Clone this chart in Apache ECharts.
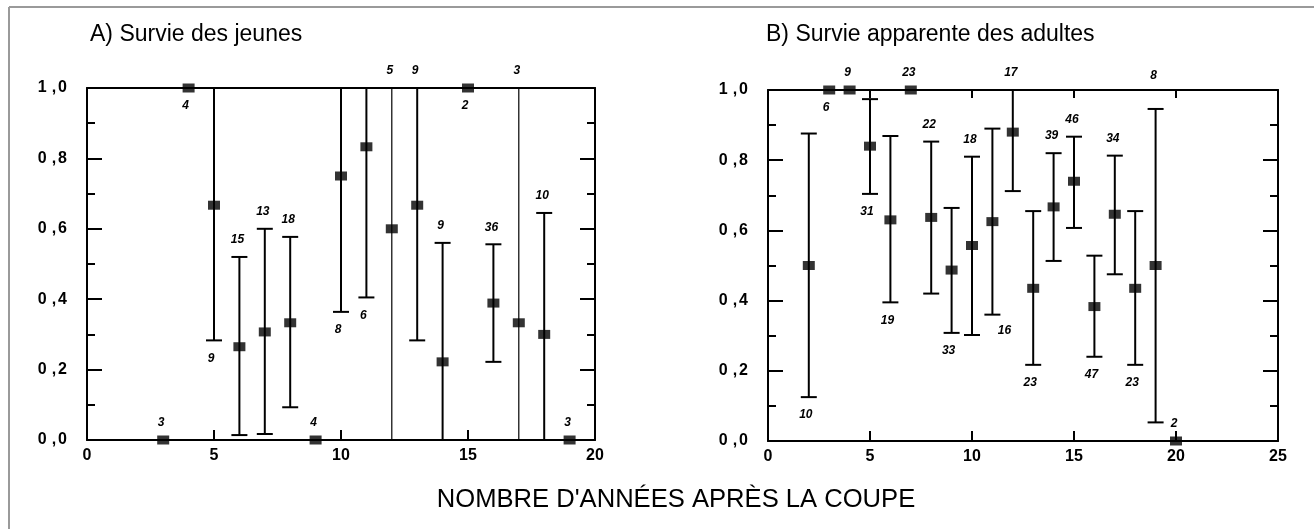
<!DOCTYPE html>
<html>
<head>
<meta charset="utf-8">
<script src="https://cdn.jsdelivr.net/npm/echarts@6/dist/echarts.min.js"></script>
<style>
  html, body { margin: 0; padding: 0; background: #fff; }
  #chart { width: 1314px; height: 529px; }
</style>
</head>
<body>
<div id="chart"></div>
<script>
  // A) Survie des jeunes
  var yearsA = [3, 4, 5, 6, 7, 8, 9, 10, 11, 12, 13, 14, 15, 16, 17, 18, 19]
  var survA  = [0, 1, 0.667, 0.265, 0.307, 0.333, 0, 0.75, 0.833, 0.6, 0.667, 0.222, 1, 0.389, 0.333, 0.3, 0]
  var lowA   = [null, null, 0.283, 0.014, 0.017, 0.093, null, 0.364, 0.405, 0, 0.283, 0, null, 0.222, 0, 0, null]
  var highA  = [null, null, 1, 0.52, 0.6, 0.577, null, 1, 1, 1, 1, 0.56, null, 0.556, 1, 0.645, null]
  var countA = [3, 4, 9, 15, 13, 18, 4, 8, 6, 5, 9, 9, 2, 36, 3, 10, 3]

  // B) Survie apparente des adultes
  var yearsB = [2, 3, 4, 5, 6, 7, 8, 9, 10, 11, 12, 13, 14, 15, 16, 17, 18, 19, 20]
  var survB  = [0.5, 1, 1, 0.84, 0.63, 1, 0.637, 0.487, 0.557, 0.625, 0.88, 0.435, 0.667, 0.74, 0.383, 0.646, 0.435, 0.5, 0]
  var lowB   = [0.125, null, null, 0.704, 0.395, null, 0.42, 0.308, 0.302, 0.36, 0.712, 0.217, 0.513, 0.607, 0.24, 0.475, 0.217, 0.053, null]
  var highB  = [0.876, null, null, 0.974, 0.869, null, 0.853, 0.664, 0.81, 0.89, 1, 0.655, 0.82, 0.867, 0.528, 0.813, 0.655, 0.946, null]
  var countB = [10, 6, 9, 31, 19, 23, 22, 33, 18, 16, 17, 23, 39, 46, 47, 34, 23, 8, 2]

  var yTickLabels = ['0,0', '0,2', '0,4', '0,6', '0,8', '1,0']
  var xTickLabelsA = ['0', '5', '10', '15', '20']
  var xTickLabelsB = ['0', '5', '10', '15', '20', '25']

  // where the n label sits: t = above, b = below, T = above the frame, br = below right
  var labelSideA = ['t', 'b', 'b', 't', 't', 't', 't', 'b', 'b', 't', 't', 't', 'b', 't', 't', 't', 't']
  var labelSideB = ['b', 'b', 't', 'b', 'b', 't', 't', 'b', 't', 'br', 't', 'b', 't', 't', 'b', 't', 'b', 'T', 't']

  var FONT = 'Liberation Sans, Arial, sans-serif'

  function rows (xs, ys, lo, hi, n) {
    return xs.map(function (x, i) {
      return [x, ys[i], lo[i] == null ? '-' : lo[i], hi[i] == null ? '-' : hi[i], n[i]]
    })
  }

  function barRenderer (sides) {
    return function (params, api) {
      var i = params.dataIndex
      var x = api.value(0)
      var y = api.value(1)
      var lo = api.value(2)
      var hi = api.value(3)
      var n = api.value(4)
      var kids = []
      var hasBar = !isNaN(lo) && !isNaN(hi)
      if (hasBar) {
        var p1 = api.coord([x, lo])
        var p2 = api.coord([x, hi])
        var w = (lo <= 0 && hi >= 1) ? 1.2 : 2
        kids.push({type: 'line', shape: {x1: p1[0], y1: p1[1], x2: p2[0], y2: p2[1]}, style: {stroke: '#000', lineWidth: w}})
        if (lo > 0) kids.push({type: 'line', shape: {x1: p1[0] - 8, y1: p1[1], x2: p1[0] + 8, y2: p1[1]}, style: {stroke: '#000', lineWidth: 2}})
        if (hi < 1) kids.push({type: 'line', shape: {x1: p2[0] - 8, y1: p2[1], x2: p2[0] + 8, y2: p2[1]}, style: {stroke: '#000', lineWidth: 2}})
      }
      var side = sides[i]
      var top = api.coord([x, hasBar ? hi : y])
      var bot = api.coord([x, hasBar ? lo : y])
      var lx, ly
      if (side === 't') { lx = top[0] - 2; ly = top[1] - 17 }
      else if (side === 'T') { lx = top[0] - 2; ly = api.coord([x, 1])[1] - 14 }
      else if (side === 'br') { lx = bot[0] + 12; ly = bot[1] + 16 }
      else { lx = bot[0] - 3; ly = bot[1] + 18 }
      kids.push({
        type: 'text',
        style: {text: String(n), x: lx, y: ly, align: 'center', verticalAlign: 'middle',
          font: 'italic bold 12px ' + FONT, fill: '#000'},
      })
      return {type: 'group', children: kids}
    }
  }

  var yLabel = {
    show: true,
    margin: 20,
    formatter: function (v) {
      var s = yTickLabels[Math.round(v / 0.2)].split(',')
      return '{d|' + s[0] + '}{c|,}{d|' + s[1] + '}'
    },
    rich: {
      d: {fontSize: 16, fontWeight: 'bold', fontFamily: FONT, color: '#000'},
      c: {fontSize: 16, fontWeight: 'bold', fontFamily: FONT, color: '#000', padding: [0, 2, 0, 5]},
    },
  }

  var axisLine = {show: true, onZero: false, lineStyle: {color: '#000', width: 2}}

  function yAxisFor (grid, pos, labels) {
    return {
      type: 'value', gridIndex: grid, position: pos, min: 0, max: 1, interval: 0.2,
      axisLine: axisLine,
      axisTick: {show: true, inside: true, length: 15, lineStyle: {color: '#000', width: 2}},
      minorTick: {show: true, splitNumber: 2, length: 8, lineStyle: {color: '#000', width: 2}},
      axisLabel: labels ? yLabel : {show: false},
      splitLine: {show: false},
      minorSplitLine: {show: false},
    }
  }

  function xAxisFor (grid, pos, max, labels, ticks, tickLen) {
    return {
      type: 'value', gridIndex: grid, position: pos, min: 0, max: max, interval: 5,
      axisLine: axisLine,
      axisTick: {show: ticks, inside: true, length: tickLen, lineStyle: {color: '#000', width: 2}},
      axisLabel: labels ? {
        show: true, margin: 8, fontSize: 16, fontWeight: 'bold', fontFamily: FONT, color: '#000',
        formatter: function (v) { return labels[Math.round(v / 5)] },
      } : {show: false},
      splitLine: {show: false},
    }
  }

  var chart = echarts.init(document.getElementById('chart'), null, {renderer: 'canvas'})
  var option = {
    animation: false,
    backgroundColor: '#fff',
    title: [
      {text: 'A) Survie des jeunes', left: 90, top: 23, padding: 0,
        textStyle: {fontSize: 23, fontWeight: 'normal', fontFamily: FONT, color: '#000'}},
      {text: 'B) Survie apparente des adultes', left: 766, top: 23, padding: 0,
        textStyle: {fontSize: 23, fontWeight: 'normal', fontFamily: FONT, color: '#000'}},
      {text: "NOMBRE D'ANNÉES APRÈS LA COUPE", left: 676, top: 487, padding: 0, textAlign: 'center',
        textStyle: {fontSize: 25.6, fontWeight: 'normal', fontFamily: FONT, color: '#000'}},
    ],
    graphic: [
      {type: 'line', shape: {x1: 9, y1: 7, x2: 1314, y2: 7}, style: {stroke: '#9a9a9a', lineWidth: 2}},
      {type: 'line', shape: {x1: 9, y1: 7, x2: 9, y2: 529}, style: {stroke: '#9a9a9a', lineWidth: 2}},
    ],
    grid: [
      {left: 87, top: 88, width: 508, height: 352},
      {left: 768, top: 90, width: 510, height: 351},
    ],
    xAxis: [
      xAxisFor(0, 'bottom', 20, xTickLabelsA, true, 10),
      xAxisFor(0, 'top', 20, null, false, 0),
      xAxisFor(1, 'bottom', 25, xTickLabelsB, true, 10),
      xAxisFor(1, 'top', 25, null, true, 8),
    ],
    yAxis: [
      yAxisFor(0, 'left', true),
      yAxisFor(0, 'right', false),
      yAxisFor(1, 'left', true),
      yAxisFor(1, 'right', false),
    ],
    series: [
      {type: 'custom', xAxisIndex: 0, yAxisIndex: 0, renderItem: barRenderer(labelSideA),
        encode: {x: 0, y: 1}, data: rows(yearsA, survA, lowA, highA, countA), z: 2, clip: false},
      {type: 'scatter', xAxisIndex: 0, yAxisIndex: 0, symbol: 'rect', symbolSize: [12, 9],
        itemStyle: {color: '#000'}, data: yearsA.map(function (x, i) { return [x, survA[i]] }), z: 5},
      {type: 'custom', xAxisIndex: 2, yAxisIndex: 2, renderItem: barRenderer(labelSideB),
        encode: {x: 0, y: 1}, data: rows(yearsB, survB, lowB, highB, countB), z: 2, clip: false},
      {type: 'scatter', xAxisIndex: 2, yAxisIndex: 2, symbol: 'rect', symbolSize: [12, 9],
        itemStyle: {color: '#000'}, data: yearsB.map(function (x, i) { return [x, survB[i]] }), z: 5},
    ],
  }
  chart.setOption(option)
</script>
</body>
</html>
